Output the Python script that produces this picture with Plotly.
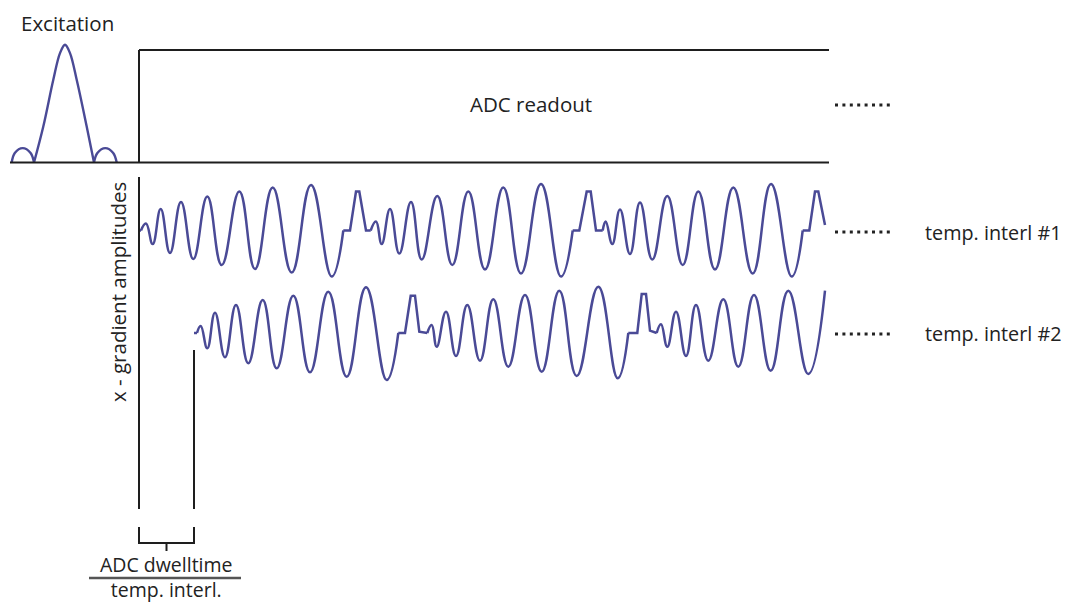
import plotly.graph_objects as go

W, H = 1065, 603
T0 = 138          # start of ADC readout (time origin), px
BASE1 = 230.5     # baseline of interleaf #1
BASE2 = 333.0     # baseline of interleaf #2
EXC_BASE = 162.5  # baseline of excitation pulse
WAVE = "#4a4a96"
INK = "#1e1e1e"
FONT = "Open Sans"

# Excitation sinc pulse (time relative to readout start, amplitude); None separates lobes
exc_t = [-126.3, -123.2, -115.3, -107.4, -104, None,
         -104, -94.7, -84.7, -78, -73, -68, -61.3, -51.3, -44, None,
         -44, -40.6, -32.7, -24.8, -21.3]
exc_amp = [0, 9.5, 14.4, 9.5, 0, None,
           0, 36, 82.7, 109.4, 117.7, 109.4, 82.7, 36, 0, None,
           0, 9.5, 14.4, 9.5, 0]

# Gradient waveform, temporal interleaf #1 (o = oscillating part, f = flat/trapezoid part)
line1_t = [0, 3, 8, 14.7, 22.7, 32, 43, 55.3, 69.3, 83.7, 101.3, 117, 134.7, 153.7, 173, 193.7, 205.3,
           212, 218, 221.3, 228, 232.7,
           238, 243.7, 252, 261.3, 273, 283.7, 299.3, 314.3, 330.3, 347, 365.3, 383, 403, 423, 434.7,
           441.3, 448.7, 452.7, 458, 464.7,
           467.7, 474.3, 482, 492, 502, 514.3, 529.3, 544.7, 560.3, 577, 595.3, 614.7, 633, 653.7, 664.7,
           671.3, 677, 680.3, 687]
line1_amp = [0, 0, 7, -13.5, 21.5, -22.5, 28.5, -28.5, 34, -34.5, 39, -38.5, 43, -42, 45.5, -46, 0,
             0, 39, 39, 0, 0,
             9, -13.5, 21.5, -23, 28.5, -29, 34.5, -34.5, 39, -39, 43, -43, 46.5, -46, 0,
             0, 39, 39, 0, 0,
             9, -13.5, 21, -23.5, 28, -29, 34.5, -34.5, 39, -39, 43, -43, 46.5, -46, 0,
             0, 39, 39, 5.5]
line1_kind = "ff" + "o" * 15 + "f" * 5 + "o" * 15 + "f" * 5 + "o" * 15 + "f" * 4

# Gradient waveform, temporal interleaf #2 (delayed by one ADC dwelltime / interleaves)
line2_t = [56, 59, 62.7, 69.3, 77, 87, 98, 110.3, 124.7, 138.7, 155.3, 172, 190.3, 208.7, 228, 248.7, 260.3,
           267, 272.7, 277, 281.3, 289.3,
           293.7, 298.7, 308, 318, 329.3, 342, 355.3, 370.3, 387, 403.7, 421.3, 438.7, 460.3, 479.7, 490.3,
           499.3, 503.7, 508, 512, 518.7,
           523, 529.3, 538, 548, 558, 570.3, 585.3, 600.3, 616, 632.7, 650.3, 670.3, 687]
line2_amp = [0, 0, 7, -15.3, 20.3, -24.3, 28, -30.3, 33, -35.3, 37.3, -39.3, 41.3, -43.7, 45.7, -47, 0,
             0, 37.3, 37.3, 1.3, 0,
             8, -13.7, 21.3, -23, 28, -27.7, 33.7, -33.7, 38, -38.7, 42.3, -43, 46.3, -45.3, 0,
             0, 39, 39, 2.3, 0,
             8.7, -13.7, 21.3, -23, 28, -27.7, 33.7, -33.7, 38, -37.7, 42.3, -41, 42.3]
line2_kind = "ff" + "o" * 15 + "f" * 5 + "o" * 15 + "f" * 5 + "o" * 13

fig = go.Figure()


def add_wave(t, amp, kind, base):
    runs = []
    cur = kind[0]
    idx = [0]
    for i in range(1, len(t)):
        if kind[i] != cur:
            runs.append((cur, idx))
            idx = [i - 1, i]
            cur = kind[i]
        else:
            idx.append(i)
    runs.append((cur, idx))
    for k, ids in runs:
        line = dict(color=WAVE, width=2.5, shape="spline" if k == "o" else "linear")
        if k == "o":
            line["smoothing"] = 1.3
        fig.add_trace(go.Scatter(
            x=[t[j] for j in ids], y=[base - amp[j] for j in ids], mode="lines",
            line=line, hoverinfo="skip", showlegend=False))


# excitation pulse
fig.add_trace(go.Scatter(
    x=exc_t, y=[None if a is None else EXC_BASE - a for a in exc_amp], mode="lines",
    line=dict(color=WAVE, width=2.4, shape="spline"), connectgaps=False,
    hoverinfo="skip", showlegend=False))

add_wave(line1_t, line1_amp, line1_kind, BASE1)
add_wave(line2_t, line2_amp, line2_kind, BASE2)


def X(px):
    return px - T0


shapes = []


def seg(x0, y0, x1, y1, color=INK, width=2, dash=None):
    d = dict(type="line", xref="x", yref="y", x0=X(x0), y0=y0, x1=X(x1), y1=y1,
             line=dict(color=color, width=width))
    if dash:
        d["line"]["dash"] = dash
    shapes.append(d)


# ADC readout box
seg(139, 50, 829, 50)
seg(10, 162.5, 829, 162.5)
seg(139, 50, 139, 162.5)
# gradient axis and dwell-time marker
seg(139, 177, 139, 509)
seg(194, 350, 194, 509)
# bracket
seg(139, 527, 139, 543)
seg(194, 527, 194, 543)
seg(138, 543, 195, 543)
seg(166.5, 543, 166.5, 551)
# fraction bar
seg(89, 578, 241, 578, color="#555555", width=2.5)
# continuation dots
for yy in (105, 232, 334):
    seg(835, yy, 894, yy, color="#222222", width=3, dash="3px,4.4px")

fig.update_layout(shapes=shapes)

ann = [
    dict(text="Excitation", x=19, y=23, xanchor="left", size=20.5),
    dict(text="ADC readout", x=531, y=104, xanchor="center", size=20.5),
    dict(text="temp. interl #1", x=923, y=232, xanchor="left", size=19.8),
    dict(text="temp. interl #2", x=923, y=333, xanchor="left", size=19.8),
    dict(text="ADC dwelltime<br>temp. interl.", x=166, y=576.5, xanchor="center", size=19.5),
]
for a in ann:
    fig.add_annotation(text=a["text"], x=X(a["x"]), y=a["y"], xref="x", yref="y",
                       xanchor=a["xanchor"], yanchor="middle", showarrow=False,
                       font=dict(family=FONT, size=a["size"], color="#222222"))
fig.add_annotation(text="x - gradient amplitudes", x=X(118), y=292, xref="x", yref="y",
                   textangle=-90, xanchor="center", yanchor="middle", showarrow=False,
                   font=dict(family=FONT, size=20.5, color="#222222"))

fig.update_layout(
    width=W, height=H,
    margin=dict(l=0, r=0, t=0, b=0),
    paper_bgcolor="white", plot_bgcolor="white",
    xaxis=dict(range=[X(0), X(W)], visible=False, fixedrange=True),
    yaxis=dict(range=[H, 0], visible=False, fixedrange=True),
    showlegend=False,
)

fig.write_html(
    "out.html",
    config={"displayModeBar": False},
    post_script="document.body.style.margin='0';document.body.style.padding='0';"
                "document.body.style.overflow='hidden';",
)
